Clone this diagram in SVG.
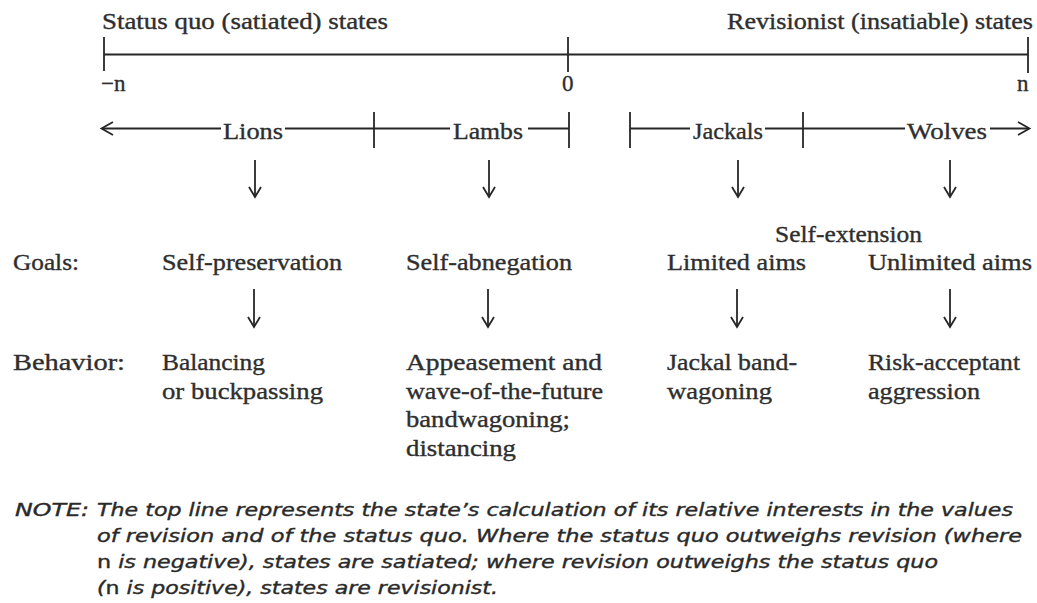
<svg xmlns="http://www.w3.org/2000/svg" width="1037" height="603" viewBox="0 0 1037 603">
<style>
  .t { font-family: "Liberation Serif", "Times New Roman", serif; font-size: 23px; fill: #2e2e2e; stroke: #2e2e2e; stroke-width: 0.35; }
  .n { font-family: "DejaVu Sans", "Liberation Sans", Arial, sans-serif; font-size: 18.5px; font-style: oblique; fill: #2a2a2a; stroke: #2a2a2a; stroke-width: 0.4; }
  .up { font-style: normal; }
  .ln { stroke: #262626; stroke-width: 1.8; fill: none; }
  .hd { stroke: #262626; stroke-width: 1.8; fill: none; stroke-linejoin: miter; }
</style>
<rect width="1037" height="603" fill="#ffffff"/>

<g id="scale-top">
  <text class="t" x="102" y="29" textLength="286" lengthAdjust="spacingAndGlyphs">Status quo (satiated) states</text>
  <text class="t" x="727" y="29" textLength="306" lengthAdjust="spacingAndGlyphs">Revisionist (insatiable) states</text>
  <text class="t" x="101" y="91">−n</text>
  <text class="t" x="562" y="91">0</text>
  <text class="t" x="1017" y="91">n</text>
</g>

<g id="connectors">
  <!-- top line -->
  <line class="ln" x1="104" y1="54.5" x2="1028" y2="54.5"/>
  <line class="ln" x1="104" y1="37" x2="104" y2="71"/>
  <line class="ln" x1="568" y1="37" x2="568" y2="72"/>
  <line class="ln" x1="1028" y1="37" x2="1028" y2="73"/>
  <!-- second line -->
  <line class="ln" x1="102" y1="128.5" x2="221" y2="128.5"/>
  <path class="hd" d="M113,122 L101.5,128.5 L113,135"/>
  <line class="ln" x1="285" y1="128.5" x2="374" y2="128.5"/>
  <line class="ln" x1="374" y1="112" x2="374" y2="148"/>
  <line class="ln" x1="374" y1="128.5" x2="450" y2="128.5"/>
  <line class="ln" x1="528" y1="128.5" x2="569" y2="128.5"/>
  <line class="ln" x1="569" y1="112" x2="569" y2="148"/>
  <line class="ln" x1="630" y1="112" x2="630" y2="148"/>
  <line class="ln" x1="630" y1="128.5" x2="690" y2="128.5"/>
  <line class="ln" x1="765" y1="128.5" x2="905" y2="128.5"/>
  <line class="ln" x1="803" y1="112" x2="803" y2="148"/>
  <line class="ln" x1="990" y1="128.5" x2="1029" y2="128.5"/>
  <path class="hd" d="M1018,122 L1029.5,128.5 L1018,135"/>
  <!-- down arrows row 1 -->
  <line class="ln" x1="255" y1="160" x2="255" y2="197"/>
  <path class="hd" d="M249,187 L255,197 L261,187"/>
  <line class="ln" x1="489" y1="160" x2="489" y2="197"/>
  <path class="hd" d="M483,187 L489,197 L495,187"/>
  <line class="ln" x1="738" y1="160" x2="738" y2="197"/>
  <path class="hd" d="M732,187 L738,197 L744,187"/>
  <line class="ln" x1="950" y1="160" x2="950" y2="197"/>
  <path class="hd" d="M944,187 L950,197 L956,187"/>
  <!-- down arrows row 2 -->
  <line class="ln" x1="254" y1="289" x2="254" y2="327"/>
  <path class="hd" d="M248,317 L254,327 L260,317"/>
  <line class="ln" x1="488" y1="289" x2="488" y2="327"/>
  <path class="hd" d="M482,317 L488,327 L494,317"/>
  <line class="ln" x1="737" y1="289" x2="737" y2="327"/>
  <path class="hd" d="M731,317 L737,327 L743,317"/>
  <line class="ln" x1="950" y1="289" x2="950" y2="327"/>
  <path class="hd" d="M944,317 L950,327 L956,317"/>
</g>

<g id="lions">
  <text class="t" x="223" y="139" textLength="60" lengthAdjust="spacingAndGlyphs">Lions</text>
</g>
<g id="lambs">
  <text class="t" x="453" y="139" textLength="70" lengthAdjust="spacingAndGlyphs">Lambs</text>
</g>
<g id="jackals">
  <text class="t" x="693" y="139" textLength="70" lengthAdjust="spacingAndGlyphs">Jackals</text>
</g>
<g id="wolves">
  <text class="t" x="907" y="139" textLength="80" lengthAdjust="spacingAndGlyphs">Wolves</text>
</g>

<g id="row-labels">
  <text class="t" x="13" y="270" textLength="66" lengthAdjust="spacingAndGlyphs">Goals:</text>
  <text class="t" x="13" y="370" textLength="112" lengthAdjust="spacingAndGlyphs">Behavior:</text>
</g>

<g id="goal-self-extension">
  <text class="t" x="775" y="242" textLength="147" lengthAdjust="spacingAndGlyphs">Self-extension</text>
</g>

<g id="goal-lions">
  <text class="t" x="162" y="270" textLength="180" lengthAdjust="spacingAndGlyphs">Self-preservation</text>
</g>
<g id="goal-lambs">
  <text class="t" x="406" y="270" textLength="166" lengthAdjust="spacingAndGlyphs">Self-abnegation</text>
</g>
<g id="goal-jackals">
  <text class="t" x="667" y="270" textLength="139" lengthAdjust="spacingAndGlyphs">Limited aims</text>
</g>
<g id="goal-wolves">
  <text class="t" x="868" y="270" textLength="164" lengthAdjust="spacingAndGlyphs">Unlimited aims</text>
</g>

<g id="behavior-lions">
  <text class="t" x="162" y="370" textLength="103" lengthAdjust="spacingAndGlyphs">Balancing</text>
  <text class="t" x="162" y="398.5" textLength="161" lengthAdjust="spacingAndGlyphs">or buckpassing</text>
</g>
<g id="behavior-lambs">
  <text class="t" x="406" y="370" textLength="196" lengthAdjust="spacingAndGlyphs">Appeasement and</text>
  <text class="t" x="406" y="398.5" textLength="197" lengthAdjust="spacingAndGlyphs">wave-of-the-future</text>
  <text class="t" x="406" y="427" textLength="164" lengthAdjust="spacingAndGlyphs">bandwagoning;</text>
  <text class="t" x="406" y="455.5" textLength="110" lengthAdjust="spacingAndGlyphs">distancing</text>
</g>
<g id="behavior-jackals">
  <text class="t" x="667" y="370" textLength="130" lengthAdjust="spacingAndGlyphs">Jackal band-</text>
  <text class="t" x="667" y="398.5" textLength="105" lengthAdjust="spacingAndGlyphs">wagoning</text>
</g>
<g id="behavior-wolves">
  <text class="t" x="868" y="370" textLength="152" lengthAdjust="spacingAndGlyphs">Risk-acceptant</text>
  <text class="t" x="868" y="398.5" textLength="112" lengthAdjust="spacingAndGlyphs">aggression</text>
</g>

<g id="note">
  <text class="n" x="15" y="516" textLength="74" lengthAdjust="spacingAndGlyphs">NOTE:</text>
  <text class="n" x="97" y="516" textLength="916" lengthAdjust="spacingAndGlyphs">The top line represents the state’s calculation of its relative interests in the values</text>
  <text class="n" x="97" y="542" textLength="925" lengthAdjust="spacingAndGlyphs">of revision and of the status quo. Where the status quo outweighs revision (where</text>
  <text class="n" x="97" y="568" textLength="841" lengthAdjust="spacingAndGlyphs"><tspan class="up">n</tspan> is negative), states are satiated; where revision outweighs the status quo</text>
  <text class="n" x="97" y="594" textLength="401" lengthAdjust="spacingAndGlyphs">(<tspan class="up">n</tspan> is positive), states are revisionist.</text>
</g>
</svg>
